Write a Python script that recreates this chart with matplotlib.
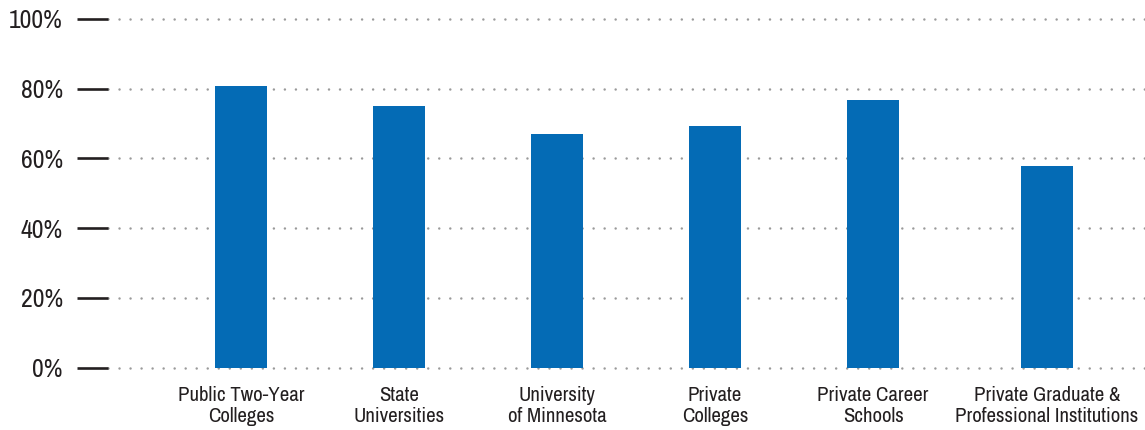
import matplotlib
matplotlib.use("Agg")
import matplotlib.pyplot as plt
import numpy as np

categories = ["Public Two-Year\nColleges", "State\nUniversities", "University\nof Minnesota",
              "Private\nColleges", "Private Career\nSchools", "Private Graduate &\nProfessional Institutions"]
values = [80.7, 75.0, 67.0, 69.3, 76.7, 57.9]
yticks = [0, 20, 40, 60, 80, 100]
ytick_labels = ["0%", "20%", "40%", "60%", "80%", "100%"]

plt.rcParams["font.family"] = ["Archivo Narrow", "Liberation Sans", "DejaVu Sans"]

W, H = 1145, 430
fig = plt.figure(figsize=(W / 100, H / 100), dpi=100)
left, right = 108, 1145
top, bottom = 19, 367.5
ax = fig.add_axes([left / W, 1 - bottom / H, (right - left) / W, (bottom - top) / H])

text_color = "#231f20"
bar_color = "#046bb5"
# layout: category slots, last slot sits slightly further right as in the reference
x = np.arange(len(categories), dtype=float)
x[-1] += 0.1
ax.bar(x, values, width=0.33, color=bar_color, zorder=3)

ax.set_ylim(0, 100)
px_per_unit = 158
ax.set_xlim(-(241 - left) / px_per_unit, (right - 241) / px_per_unit)

ax.set_yticks(yticks)
ax.set_yticklabels(ytick_labels, fontsize=18.5, color=text_color)
ax.set_xticks(x)
ax.set_xticklabels(categories, fontsize=15, color=text_color, linespacing=1.12)

ax.tick_params(axis="y", length=22.5, width=1.9, color=text_color, pad=10, direction="out")
ax.tick_params(axis="x", length=0, pad=13.5)

for s in ax.spines.values():
    s.set_visible(False)

lw = 1.8
for yv in yticks:
    ax.axhline(yv, color="#9a9a9a", linewidth=lw, linestyle=(0, (0.01, 7.92 / lw)),
               dash_capstyle="round", zorder=1, clip_on=False)

fig.savefig("out.png", dpi=100)
